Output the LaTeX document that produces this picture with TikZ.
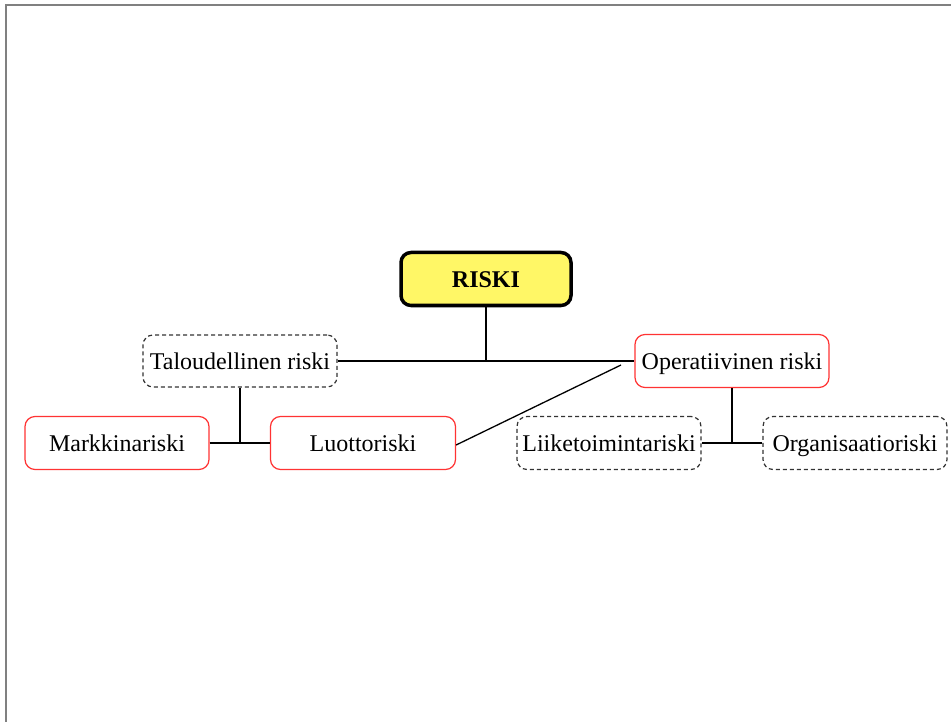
\documentclass[tikz,border=0pt]{standalone}
\usepackage{fontspec}
\setmainfont{Liberation Serif}
\begin{document}
\begin{tikzpicture}[x=1pt,y=-1pt,
  every node/.style={font=\fontsize{24}{28}\selectfont, inner sep=0pt, text height=22pt, text depth=5pt, rounded corners=10pt},
  riskbox/.style={draw=red!80!white, line width=1.2pt, minimum width=185pt, minimum height=53pt},
  dashbox/.style={draw=black!80, dashed, dash pattern=on 4pt off 3pt, line width=1.2pt, minimum width=185pt, minimum height=53pt},
  rootbox/.style={draw=black, line width=3.5pt, fill=yellow!60!white, minimum width=170pt, minimum height=53pt, font=\fontsize{24}{28}\selectfont\bfseries},
  link/.style={draw=black, line width=1.3pt}]
\useasboundingbox (0,0) rectangle (951,722);
% page frame
\draw[gray, line width=1.5pt] (6,722) -- (6,5) -- (951,5);

% nodes
\node[rootbox] (riski) at (486,279) {RISKI};
\node[dashbox, minimum width=194pt, minimum height=52pt] (talous) at (240,361) {Taloudellinen riski};
\node[riskbox, minimum width=194pt] (oper) at (732,361) {Operatiivinen riski};
\node[riskbox, minimum width=184pt] (markkina) at (117,443) {Markkinariski};
\node[riskbox] (luotto) at (363,443) {Luottoriski};
\node[dashbox, minimum width=184pt] (liike) at (609,443) {Liiketoimintariski};
\node[dashbox, minimum width=184pt] (organ) at (855,443) {Organisaatioriski};

% junctions and free end
\coordinate (j1) at (riski.south |- talous.east);
\coordinate (j2) at (talous.south |- markkina.east);
\coordinate (j3) at (oper.south |- liike.east);
\coordinate (luottoend) at (621,365);

% connectors
\draw[link] (talous.east) -- (oper.west);
\draw[link] (riski.south) -- (j1);
\draw[link] (talous.south) -- (j2);
\draw[link] (markkina.east) -- (luotto.west);
\draw[link] (oper.south) -- (j3);
\draw[link] (liike.east) -- (organ.west);
\draw[link] ([yshift=-2pt]luotto.east) -- (luottoend);
\end{tikzpicture}
\end{document}
